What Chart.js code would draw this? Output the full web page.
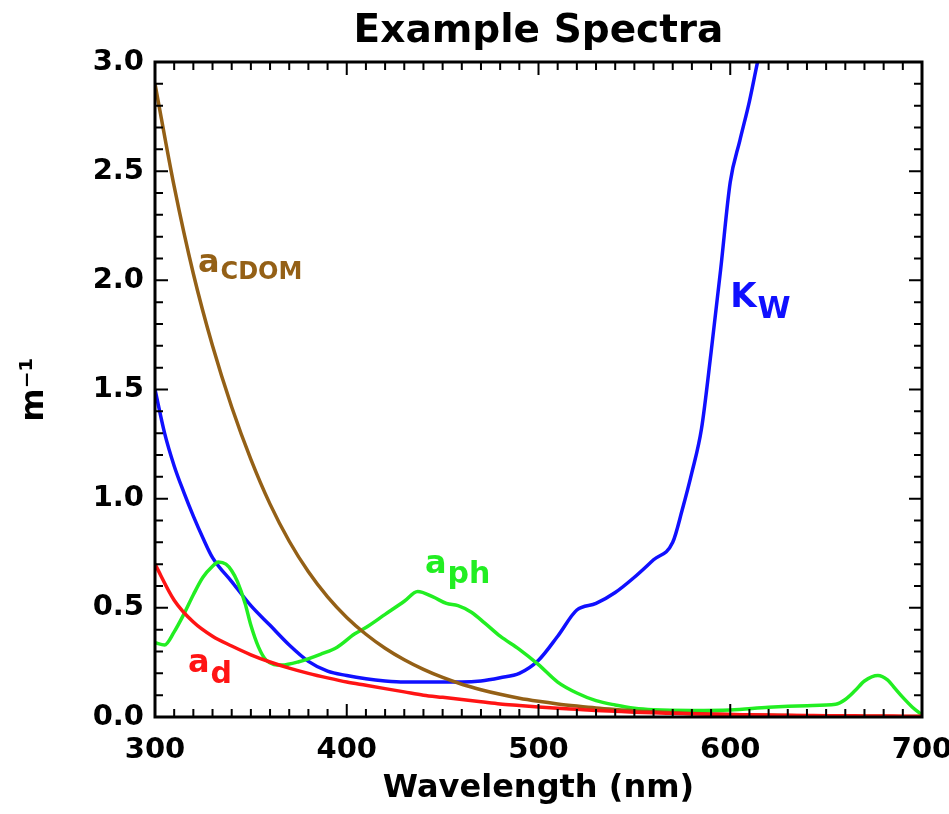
<!DOCTYPE html>
<html>
<head>
<meta charset="utf-8">
<title>Example Spectra</title>
<script src="https://cdn.jsdelivr.net/npm/chart.js@4.4.1/dist/chart.umd.min.js"></script>
<style>
  html, body { margin:0; padding:0; background:#fff; }
  canvas { display:block; }
</style>
</head>
<body>
<canvas id="spectraChart" width="949" height="814" style="width:949px;height:814px"></canvas>
<script>
// wavelengths (nm) shared by a_CDOM and a_d
const wl10 = [300,310,320,330,340,350,360,370,380,390,400,410,420,430,440,450,460,470,480,490,500,
              510,520,530,540,550,560,570,580,590,600,610,620,630,640,650,660,670,680,690,700];

const cdomVals = [2.90,2.43,2.03,1.70,1.42,1.18,0.975,0.805,0.665,0.55,0.456,0.379,0.315,0.262,0.218,0.181,0.150,0.125,0.104,0.086,0.072,
                  0.060,0.050,0.041,0.034,0.028,0.024,0.020,0.016,0.014,0.011,0.009,0.008,0.007,0.005,0.004,0.004,0.003,0.003,0.002,0.002];

const adVals = [0.70,0.535,0.435,0.37,0.325,0.285,0.252,0.224,0.200,0.179,0.16,0.145,0.13,0.115,0.10,0.09,0.08,0.07,0.06,0.053,0.046,
                0.040,0.035,0.030,0.026,0.022,0.019,0.017,0.015,0.013,0.011,0.010,0.009,0.008,0.007,0.006,0.006,0.005,0.005,0.004,0.004];

// water K_w
const kwWl   = [300,305,310,315,320,325,330,340,350,360,370,380,390,400,410,420,430,440,450,460,470,480,490,500,510,520,530,540,550,560,570,575,580,585,590,595,600,605,610,615,620];
const kwVals = [1.50,1.30,1.15,1.03,0.92,0.82,0.73,0.62,0.51,0.42,0.33,0.255,0.21,0.19,0.175,0.165,0.16,0.16,0.16,0.16,0.165,0.18,0.20,0.26,0.37,0.49,0.52,0.57,0.64,0.72,0.80,0.95,1.12,1.32,1.67,2.05,2.45,2.64,2.82,3.03,3.20];

// phytoplankton a_ph
const aphWl   = [300,305,310,315,320,325,330,333,337,340,343,347,350,354,358,366,375,387,395,404,410,420,430,437,445,452,458,465,472,480,490,500,
                 510,520,530,540,550,560,580,600,620,640,655,660,665,670,677,682,686,690,695,700];
const aphVals = [0.34,0.33,0.39,0.47,0.56,0.64,0.69,0.71,0.70,0.67,0.62,0.52,0.42,0.32,0.26,0.238,0.253,0.29,0.32,0.38,0.41,0.47,0.53,0.575,0.55,0.52,0.51,0.48,0.43,0.37,0.31,0.24,
                 0.16,0.11,0.075,0.055,0.04,0.033,0.03,0.032,0.045,0.052,0.058,0.08,0.12,0.165,0.19,0.17,0.13,0.09,0.045,0.01];

const xTicksMajor = [300,400,500,600,700];
const yTicksMajor = [0.0,0.5,1.0,1.5,2.0,2.5,3.0];

const colors = { kw:'#1010ff', cdom:'#946016', ad:'#ff1414', aph:'#22ee22' };

// in-plot labels: [main, sub, wavelength, value, colour, main px, sub px, sub drop]
const curveLabels = [
  ['a','CDOM',322.4,2.04,colors.cdom,32,24,7],
  ['K','W',600,1.88,colors.kw,34,30,11],
  ['a','ph',440.8,0.66,colors.aph,32,30,10],
  ['a','d',317.2,0.206,colors.ad,32,30,11]
];

const FONT = '"DejaVu Sans", "Liberation Sans", Arial, sans-serif';

function pts(xs, ys){ return xs.map((x,i)=>({x:x, y:ys[i]})); }

function lineSet(label, xs, ys, color){
  return { label, data: pts(xs,ys), borderColor:color, backgroundColor:color, borderWidth:3.5,
           pointRadius:0, cubicInterpolationMode:'monotone', fill:false };
}

// frame, inward ticks on all four sides, title and curve labels
const framePlugin = {
  id:'frame',
  afterDatasetsDraw(chart){
    const {ctx, chartArea:a, scales:{x, y}} = chart;
    ctx.save();
    ctx.strokeStyle = '#000';
    ctx.lineWidth = 2;
    ctx.beginPath();
    for(let v=300; v<=700; v+=10){
      const px = x.getPixelForValue(v);
      const len = v%100===0 ? 13 : 8;
      ctx.moveTo(px, a.bottom); ctx.lineTo(px, a.bottom-len);
      ctx.moveTo(px, a.top); ctx.lineTo(px, a.top+len);
    }
    for(let k=0; k<=30; k++){
      const py = y.getPixelForValue(k/10);
      const len = k%5===0 ? 13 : 8;
      ctx.moveTo(a.left, py); ctx.lineTo(a.left+len, py);
      ctx.moveTo(a.right, py); ctx.lineTo(a.right-len, py);
    }
    ctx.stroke();
    ctx.lineWidth = 3;
    ctx.strokeRect(a.left, a.top, a.right-a.left, a.bottom-a.top);

    // title
    ctx.fillStyle = '#000';
    ctx.font = 'bold 39px ' + FONT;
    ctx.textAlign = 'center';
    ctx.textBaseline = 'alphabetic';
    ctx.fillText('Example Spectra', (a.left+a.right)/2, 42);

    // curve labels
    ctx.textAlign = 'left';
    curveLabels.forEach(([main, sub, lx, ly, col, fm, fs, drop])=>{
      const px = x.getPixelForValue(lx), py = y.getPixelForValue(ly);
      ctx.fillStyle = col;
      ctx.font = 'bold '+fm+'px '+FONT;
      ctx.fillText(main, px, py);
      const w = ctx.measureText(main).width;
      ctx.font = 'bold '+fs+'px '+FONT;
      ctx.fillText(sub, px+w+1, py+drop);
    });
    ctx.restore();
  }
};

const ctx = document.getElementById('spectraChart').getContext('2d');
const chart = new Chart(ctx, {
  type:'line',
  data:{
    datasets:[
      lineSet('a_d', wl10, adVals, colors.ad),
      lineSet('a_CDOM', wl10, cdomVals, colors.cdom),
      lineSet('a_ph', aphWl, aphVals, colors.aph),
      lineSet('K_w', kwWl, kwVals, colors.kw)
    ]
  },
  options:{
    responsive:false,
    animation:false,
    devicePixelRatio:1,
    layout:{ padding:{ top:62, right:27, left:0, bottom:0 } },
    plugins:{ legend:{display:false}, title:{display:false}, tooltip:{enabled:false} },
    scales:{
      x:{
        type:'linear', min:300, max:700,
        afterBuildTicks: s => { s.ticks = xTicksMajor.map(v=>({value:v})); },
        ticks:{ color:'#000', font:{family:FONT, size:29, weight:'bold'}, padding:16, maxRotation:0, autoSkip:false },
        grid:{ drawOnChartArea:false, drawTicks:false },
        border:{ display:false },
        title:{ display:true, text:'Wavelength (nm)', color:'#000', font:{family:FONT, size:32, weight:'bold'}, padding:{top:0, bottom:6} },
        afterFit: s => { s.height = 97; s.paddingLeft = 0; s.paddingRight = 0; }
      },
      y:{
        type:'linear', min:0, max:3,
        afterBuildTicks: s => { s.ticks = yTicksMajor.map(v=>({value:v})); },
        ticks:{ color:'#000', font:{family:FONT, size:29, weight:'bold'}, padding:11, autoSkip:false,
                callback: v => v.toFixed(1) },
        grid:{ drawOnChartArea:false, drawTicks:false },
        border:{ display:false },
        title:{ display:true, text:'m⁻¹', color:'#000', font:{family:FONT, size:32, weight:'bold'}, padding:{top:15, bottom:0} },
        afterFit: s => { s.width = 155; s.paddingTop = 0; s.paddingBottom = 0; }
      }
    }
  },
  plugins:[framePlugin]
});
</script>
</body>
</html>
